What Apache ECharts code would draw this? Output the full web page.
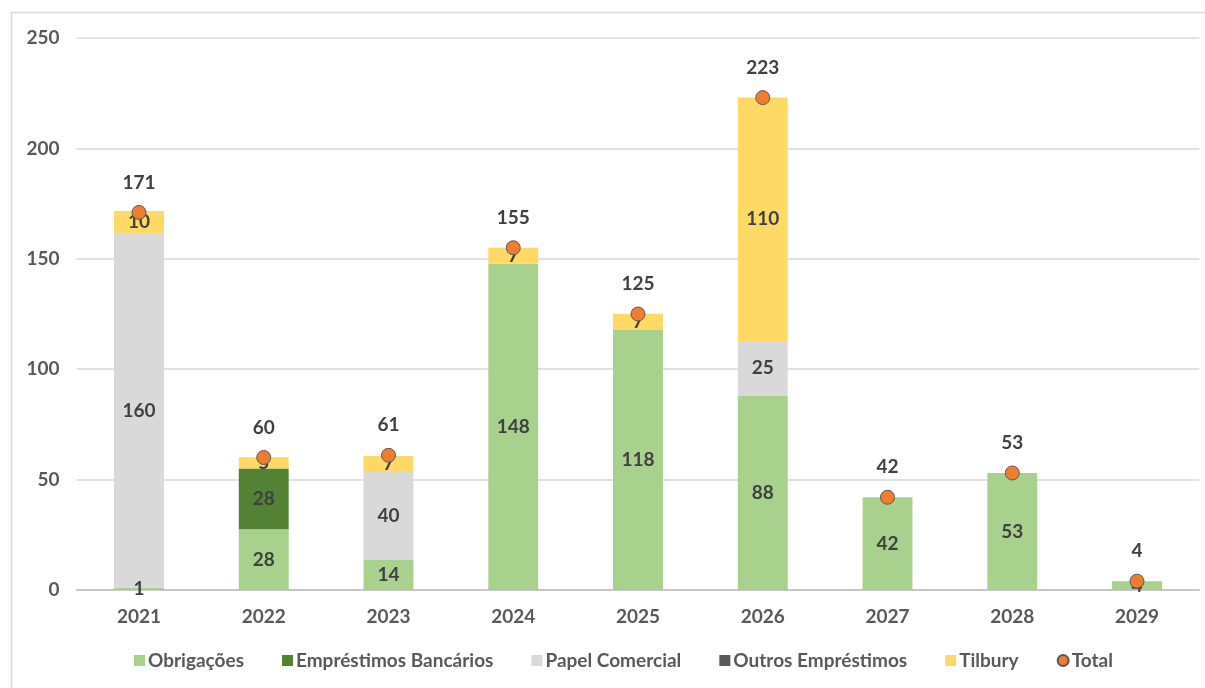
<!DOCTYPE html>
<html><head><meta charset="utf-8">
<script src="https://cdn.jsdelivr.net/npm/echarts@6/dist/echarts.min.js"></script>
<style>html,body{margin:0;padding:0;background:#fff}#c{width:1205px;height:688px}</style>
</head><body><div id="c"></div>
<script>
const categories = ['2021','2022','2023','2024','2025','2026','2027','2028','2029'];
const obrigacoes = [1, 27.5, 13.6, 147.8, 117.8, 88, 42, 53, 4];
const emprestimosBancarios = [0, 27.5, 0, 0, 0, 0, 0, 0, 0];
const papelComercial = [160.4, 0, 40.3, 0, 0, 24.8, 0, 0, 0];
const outrosEmprestimos = [0, 0, 0, 0, 0, 0, 0, 0, 0];
const tilbury = [10.2, 5.1, 6.8, 7.2, 7.3, 110.3, 0, 0, 0];
const total = [171, 60, 61, 155, 125, 223, 42, 53, 4];
const yTicks = [0, 50, 100, 150, 200, 250];

const FONT = 'Lato, "Open Sans", sans-serif';
const FS = 19;
const labelStyle = {
  show: true, position: 'inside', fontFamily: FONT, fontWeight: 700, fontSize: FS, color: '#404040',
  formatter: p => p.value ? String(Math.round(p.value)) : ''
};
function bar(name, data, color) {
  return { name, type: 'bar', stack: 's', data, barWidth: '40%', itemStyle: { color }, label: labelStyle, emphasis: { disabled: true } };
}
const chart = echarts.init(document.getElementById('c'));
chart.setOption({
  animation: false,
  graphic: [{ type: 'rect', shape: { x: 11.5, y: 12.5, width: 1250, height: 720 }, style: { fill: 'none', stroke: '#D9D9D9', lineWidth: 1.5 }, z: -1 }],
  grid: { left: 76.6, right: 5.6, top: 38, bottom: 98 },
  legend: {
    bottom: 13, left: 129, itemWidth: 11, itemHeight: 11, itemGap: 38,
    textStyle: { fontFamily: FONT, fontWeight: 700, fontSize: FS, color: '#595959', padding: [0, 0, 0, -2] },
    data: [
      { name: 'Obrigações', icon: 'rect' },
      { name: 'Empréstimos Bancários', icon: 'rect' },
      { name: 'Papel Comercial', icon: 'rect' },
      { name: 'Outros Empréstimos', icon: 'rect' },
      { name: 'Tilbury', icon: 'rect' },
      { name: 'Total', icon: 'circle' }
    ]
  },
  xAxis: {
    type: 'category', data: categories,
    axisLine: { lineStyle: { color: '#BFBFBF', width: 1.5 } }, axisTick: { show: false },
    axisLabel: { fontFamily: FONT, fontWeight: 700, fontSize: FS, color: '#595959', margin: 17 }
  },
  yAxis: {
    type: 'value', min: yTicks[0], max: yTicks[yTicks.length - 1], interval: 50,
    axisLine: { show: false }, axisTick: { show: false },
    splitLine: { lineStyle: { color: '#D9D9D9', width: 1.5 } },
    axisLabel: { fontFamily: FONT, fontWeight: 700, fontSize: FS, color: '#595959', margin: 17 }
  },
  series: [
    bar('Obrigações', obrigacoes, '#A9D18E'),
    bar('Empréstimos Bancários', emprestimosBancarios, '#548235'),
    bar('Papel Comercial', papelComercial, '#D9D9D9'),
    bar('Outros Empréstimos', outrosEmprestimos, '#595959'),
    bar('Tilbury', tilbury, '#FFD966'),
    {
      name: 'Total', type: 'line', data: total, symbol: 'circle', symbolSize: 14, showSymbol: true, z: 2,
      lineStyle: { width: 0, opacity: 0 },
      itemStyle: { color: '#ED7D31', borderColor: '#595959', borderWidth: 1 },
      label: { show: true, position: 'top', distance: 13, fontFamily: FONT, fontWeight: 'bold', fontSize: FS, color: '#404040' },
      emphasis: { disabled: true }
    }
  ]
});
</script></body></html>
